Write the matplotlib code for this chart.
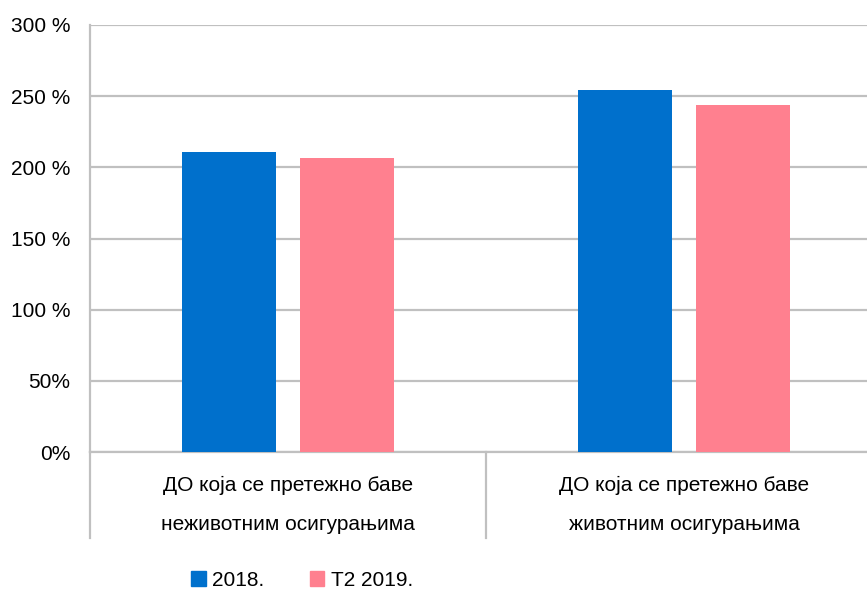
import matplotlib.pyplot as plt
from matplotlib.patches import Patch
from matplotlib.transforms import blended_transform_factory

plt.rcParams['font.family'] = ['Liberation Sans', 'DejaVu Sans']

categories = ["ДО која се претежно баве\nнеживотним осигурањима",
              "ДО која се претежно баве\nживотним осигурањима"]
series_names = ["2018.", "Т2 2019."]
values_2018 = [210.5, 254.5]
values_2019 = [206.8, 243.9]
yticks = [0, 50, 100, 150, 200, 250, 300]

blue = "#0070CC"
pink = "#FF808F"
grid = "#C0C0C0"

fig = plt.figure(figsize=(8.67, 5.9), dpi=100)
ax = fig.add_axes([90 / 867, (590 - 452) / 590, 792 / 867, (452 - 25) / 590])

x = [0, 1]
w = 0.235
ax.bar([i - 0.149 for i in x], values_2018, width=w, color=blue, zorder=3)
ax.bar([i + 0.149 for i in x], values_2019, width=w, color=pink, zorder=3)

ax.set_xlim(-0.5, 1.5)
ax.set_ylim(0, 300)
ax.set_yticks(yticks)
ax.set_yticklabels([f"{v} %" if v >= 100 else f"{v}%" for v in yticks], fontsize=15)
ax.tick_params(axis='y', length=0, pad=14)
ax.set_xticks([])
ax.yaxis.grid(True, color=grid, linewidth=1.6, zorder=0)
for s in ['top', 'right']:
    ax.spines[s].set_visible(False)
for s in ['left', 'bottom']:
    ax.spines[s].set_color(grid)
    ax.spines[s].set_linewidth(1.6)

# category labels, two lines each, with separators between the groups
trans = blended_transform_factory(ax.transData, ax.transAxes)
for i, lab in enumerate(categories):
    l1, l2 = lab.split("\n")
    ax.text(i, -33 / 427, l1, transform=trans, ha='center', va='center', fontsize=15)
    ax.text(i, -73 / 427, l2, transform=trans, ha='center', va='center', fontsize=15)
for xv in [-0.5, 0.5, 1.5]:
    ax.plot([xv, xv], [0, -86 / 427], transform=trans, color=grid, linewidth=1.6, clip_on=False)

handles = [Patch(color=blue), Patch(color=pink)]
fig.legend(handles, series_names, loc='center', bbox_to_anchor=(302 / 867, 1 - 580 / 590),
           ncol=2, frameon=False, fontsize=15, handlelength=0.7, handleheight=0.7,
           handletextpad=0.3, columnspacing=2.2)

fig.savefig("out.png", dpi=100)
